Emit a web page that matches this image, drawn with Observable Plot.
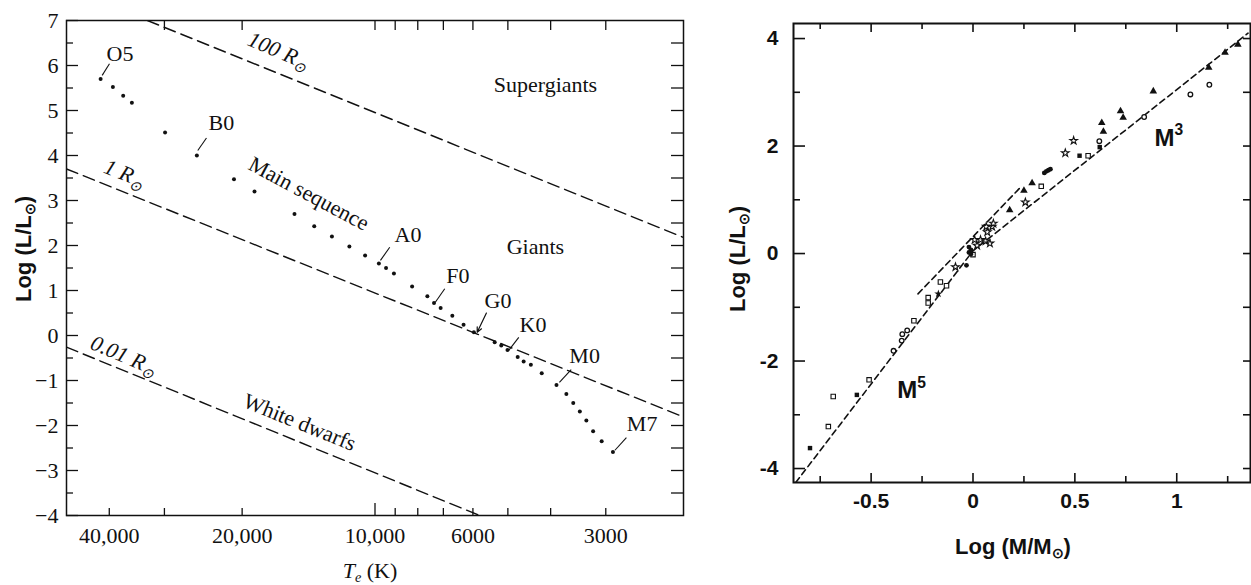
<!DOCTYPE html>
<html><head><meta charset="utf-8">
<script src="https://cdn.jsdelivr.net/npm/d3@7"></script>
<script src="https://cdn.jsdelivr.net/npm/@observablehq/plot@0.6"></script>
<style>
body{margin:0;background:#fff;}
#wrap{position:relative;width:1251px;height:585px;overflow:hidden;background:#fff;}
#left{position:absolute;left:0;top:0;width:700px;height:585px;}
#right{position:absolute;left:700px;top:0;width:551px;height:585px;}
</style></head><body>
<div id="wrap"><div id="left"></div><div id="right"></div></div>
<script>
// ---------------- Left panel data (H-R diagram) ----------------
const msTemp = [41850,39250,37200,35550,29900,25330,20870,18750,15220,13730,12520,11430,10530,9800,9440,9060,8240,7610,7350,7100,6680,6300,5970,5355,5175,5010,4750,4605,4435,4190,3880,3685,3555,3435,3320,3205,3065,2890];
const msLogL = [5.70,5.52,5.33,5.17,4.51,4.00,3.47,3.20,2.70,2.43,2.20,1.98,1.78,1.60,1.50,1.38,1.09,0.87,0.72,0.61,0.44,0.24,0.07,-0.15,-0.22,-0.32,-0.48,-0.58,-0.65,-0.84,-1.10,-1.30,-1.50,-1.69,-1.89,-2.13,-2.35,-2.59];

const specLabels = ["O5","B0","A0","F0","G0","K0","M0","M7"];
const specLabelT = [37830,22280,8420,6490,5265,4387,3350,2482];
const specLabelL = [6.26,4.72,2.23,1.33,0.76,0.24,-0.46,-1.96];
const leaderT1 = [41510,25210,9720,7300,5868,4977,3821,2860];
const leaderL1 = [5.78,4.11,1.67,0.74,0.07,-0.33,-1.04,-2.55];
const leaderT2 = [39960,24090,9260,6950,5592,4724,3593,2694];
const leaderL2 = [6.04,4.39,1.96,1.04,0.50,-0.04,-0.76,-2.27];

// constant-radius lines: endpoints [T, logL]
const radius100 = [[32780,7.0],[2000,2.18]];
const radius1 = [[50000,3.70],[2000,-1.81]];
const radius001 = [[50000,-0.26],[5790,-4.0]];

const regionNames = ["Supergiants","Giants"];
const regionT = [4110,4330];
const regionL = [5.56,1.96];

const slantNames = ["Main sequence","White dwarfs","100 R_{⊙}","1 R_{⊙}","0.01 R_{⊙}"];
const slantT = [14125,14820,16550,36950,37090];
const slantL = [3.15,-1.93,6.33,3.60,-0.44];
const slantAngle = [28,22,23,22,23];
const slantItalic = [false,false,true,true,true];

const lumMajor = [-4,-3,-2,-1,0,1,2,3,4,5,6,7];
const lumMinor = [-3.5,-2.5,-1.5,-0.5,0.5,1.5,2.5,3.5,4.5,5.5,6.5];
const lumRightTicks = [-3.5,-3,-2.5,-2,-1.5,-1,-0.5,0,0.5,1,1.5,2,2.5,3,3.5,4,4.5,5,5.5,6,6.5];
const tempLabels = [40000,20000,10000,6000,3000];
const tempTicksBottom = [40000,30000,20000,9000,8000,7000,6000,5000,4000,3000];
const tempTicksBottomLong = [10000];
const tempTicksTop = [30000,20000,10000,9000,8000,7000,6000,5000,4000,3000];

// ---------------- Right panel data (mass-luminosity) ----------------
const triFilledM = [1.30,1.237,1.157,0.885,0.724,0.737,0.632,0.64,0.29,0.25,0.18];
const triFilledL = [3.89,3.74,3.46,3.02,2.65,2.53,2.43,2.27,1.31,1.17,0.81];
const circOpenM = [1.16,1.067,0.84,0.62,-0.323,-0.347,-0.35,-0.39];
const circOpenL = [3.14,2.96,2.54,2.09,-1.43,-1.50,-1.62,-1.81];
const starOpenM = [0.494,0.453,0.257,0.065,0.094,0.07,0.10,0.008,0.037,0.062,0.083,0.02,-0.086];
const starOpenL = [2.10,1.87,0.955,0.50,0.50,0.40,0.56,0.255,0.255,0.23,0.19,0.15,-0.25];
const starFilledM = [-0.17];
const starFilledL = [-0.75];
const sqFilledM = [0.622,0.523,-0.57,-0.80];
const sqFilledL = [1.98,1.82,-2.63,-3.62];
const sqOpenM = [0.565,0.335,0.0,-0.16,-0.13,-0.22,-0.22,-0.29,-0.51,-0.686,-0.71];
const sqOpenL = [1.82,1.25,-0.02,-0.53,-0.60,-0.82,-0.92,-1.25,-2.35,-2.66,-3.22];
const circFilledM = [0.35,0.36,0.37,0.38,-0.02,-0.02,-0.01,-0.01,-0.032];
const circFilledL = [1.50,1.53,1.55,1.57,0.12,0.02,-0.01,0.07,-0.22];

const fitLowerM = [-0.87,0.0,1.35];
const fitLowerL = [-4.26,0.05,4.1];
const fitUpperM = [-0.27,0.23];
const fitUpperL = [-0.75,1.22];

const powerLabels = ["M^{3}","M^{5}"];
const powerM = [0.891,-0.372];
const powerL = [2.01,-2.68];

const massLabelTicks = [-0.5,0,0.5,1];
const massMajor = [-0.5,0,0.5,1];
const massMinor = [-0.75,-0.25,0.25,0.75,1.25];
const lum2Major = [-4,-2,0,2,4];
const lum2Minor = [-3,-1,1,3];
const lum2All = [-4,-3,-2,-1,0,1,2,3,4];

// ---------------- helpers ----------------
const serif = "'Liberation Serif','Times New Roman',Times,serif";
const sans = "'Liberation Sans',Arial,Helvetica,sans-serif";
const ink = "#111";
const pairs = (a,b) => a.map((v,i)=>({x:v,y:b[i]}));
const minusFmt = d => d < 0 ? "\u2212" + Math.abs(d) : String(d);
const tempFmt = d => d >= 10000 ? d3.format(",")(d) : String(d);

function rich(svg) {
  const NS = "http://www.w3.org/2000/svg";
  svg.querySelectorAll("text").forEach(t => {
    const s = t.textContent;
    if (!/_\{|\^\{|\*/.test(s)) return;
    const parts = s.split(/(_\{[^}]*\}|\^\{[^}]*\}|\*[^*]*\*)/).filter(p => p !== "");
    while (t.firstChild) t.removeChild(t.firstChild);
    let shift = 0;
    for (const p of parts) {
      const ts = document.createElementNS(NS, "tspan");
      let txt = p, small = false, sub = false;
      if (p.startsWith("_{")) { txt = p.slice(2,-1); small = true; sub = true; }
      else if (p.startsWith("^{")) { txt = p.slice(2,-1); small = true; }
      if (txt.length > 1 && txt.startsWith("*") && txt.endsWith("*")) { txt = txt.slice(1,-1); ts.setAttribute("font-style","italic"); }
      if (small) {
        ts.setAttribute("font-size","65%");
        const target = sub ? 0.22 : -0.42;
        ts.setAttribute("dy", ((target - shift)/0.65).toFixed(3) + "em");
        shift = target;
      } else if (shift !== 0) {
        ts.setAttribute("dy", (-shift).toFixed(3) + "em");
        shift = 0;
      }
      ts.textContent = txt;
      t.appendChild(ts);
    }
  });
}

// ---------------- Left plot ----------------
const W1=700,H1=585,mL1=66,mR1=17,mT1=20,mB1=70;
const iW1=W1-mL1-mR1, iH1=H1-mT1-mB1;
const specRows = specLabels.map((s,i)=>({s, T:specLabelT[i], L:specLabelL[i], T1:leaderT1[i], L1:leaderL1[i], T2:leaderT2[i], L2:leaderL2[i]}));
const slantRows = slantNames.map((s,i)=>({s, T:slantT[i], L:slantL[i], a:slantAngle[i], it:slantItalic[i]}));
const dash = {stroke: ink, strokeWidth: 1.4, strokeDasharray: "12,6", clip: true};

const left = Plot.plot({
  width: W1, height: H1, marginLeft: mL1, marginRight: mR1, marginTop: mT1, marginBottom: mB1,
  style: {fontFamily: serif, fontSize: "22px", background: "transparent", color: ink},
  x: {type: "log", domain: [50000, 2000], axis: null},
  y: {domain: [-4, 7], axis: null},
  marks: [
    Plot.line(radius100, {x: d=>d[0], y: d=>d[1], ...dash}),
    Plot.line(radius1, {x: d=>d[0], y: d=>d[1], ...dash}),
    Plot.line(radius001, {x: d=>d[0], y: d=>d[1], ...dash}),
    Plot.tickY(lumMajor, {y: d=>d, insetRight: iW1-12, stroke: ink, strokeWidth: 1.3}),
    Plot.tickY(lumMinor, {y: d=>d, insetRight: iW1-7, stroke: ink, strokeWidth: 1.3}),
    Plot.tickY(lumRightTicks, {y: d=>d, insetLeft: iW1-12, stroke: ink, strokeWidth: 1.3}),
    Plot.tickX(tempTicksBottom, {x: d=>d, insetTop: iH1-7, stroke: ink, strokeWidth: 1.3}),
    Plot.tickX(tempTicksBottomLong, {x: d=>d, insetTop: iH1-12, stroke: ink, strokeWidth: 1.3}),
    Plot.tickX(tempTicksTop, {x: d=>d, insetBottom: iH1-10, stroke: ink, strokeWidth: 1.3}),
    Plot.frame({stroke: ink, strokeWidth: 1.5}),
    Plot.text(lumMajor, {y: d=>d, text: minusFmt, frameAnchor: "left", textAnchor: "end", dx: -8, fontSize: 22, fill: ink}),
    Plot.text(tempLabels, {x: d=>d, text: tempFmt, frameAnchor: "bottom", lineAnchor: "top", dy: 12, fontSize: 22, fill: ink}),
    Plot.dot(pairs(msTemp, msLogL), {x: "x", y: "y", r: 2, fill: ink}),
    Plot.link(specRows.filter(d=>d.s!=="G0"), {x1: "T1", y1: "L1", x2: "T2", y2: "L2", stroke: ink, strokeWidth: 1.1}),
    Plot.arrow(specRows.filter(d=>d.s==="G0"), {x1: "T2", y1: "L2", x2: "T1", y2: "L1", stroke: ink, strokeWidth: 1.2, headLength: 7, headAngle: 50}),
    Plot.text(specRows, {x: "T", y: "L", text: "s", fontSize: 22, fill: ink}),
    Plot.text(regionNames.map((s,i)=>({s, T:regionT[i], L:regionL[i]})), {x: "T", y: "L", text: "s", fontSize: 22, fill: ink}),
    Plot.text(slantRows.filter(d=>!d.it), {x: "T", y: "L", text: "s", rotate: "a", fontSize: 22, fill: ink}),
    Plot.text(slantRows.filter(d=>d.it), {x: "T", y: "L", text: "s", rotate: "a", fontSize: 22, fontStyle: "italic", fill: ink}),
    Plot.text(["*T*_{*e*} (K)"], {text: d=>d, frameAnchor: "bottom", textAnchor: "middle", lineAnchor: "middle", dx: -5, dy: 55, fontSize: 22, fill: ink}),
    Plot.text(["Log (L/L_{⊙})"], {text: d=>d, frameAnchor: "left", textAnchor: "middle", lineAnchor: "middle", rotate: -90, dx: -43, dy: -19, fontSize: 22, fontFamily: sans, fontWeight: "bold", fill: ink})
  ]
});
rich(left);
document.getElementById("left").appendChild(left);

// ---------------- Right plot ----------------
const W2=551,H2=585,mL2=93,mR2=1,mT2=23,mB2=103;
const iW2=W2-mL2-mR2, iH2=H2-mT2-mB2;
const dash2 = {stroke: ink, strokeWidth: 1.6, strokeDasharray: "6,4", clip: true};
const right = Plot.plot({
  width: W2, height: H2, marginLeft: mL2, marginRight: mR2, marginTop: mT2, marginBottom: mB2,
  style: {fontFamily: sans, fontSize: "21px", fontWeight: "bold", background: "transparent", color: ink},
  x: {domain: [-0.881, 1.362]},
  y: {domain: [-4.26, 4.28]},
  marks: [
    Plot.tickY(lum2Major, {y: d=>d, insetRight: iW2-12, stroke: ink, strokeWidth: 1.6}),
    Plot.tickY(lum2Minor, {y: d=>d, insetRight: iW2-7, stroke: ink, strokeWidth: 1.6}),
    Plot.tickY(lum2All, {y: d=>d, insetLeft: iW2-7, stroke: ink, strokeWidth: 1.6}),
    Plot.tickX(massMajor, {x: d=>d, insetTop: iH2-9, stroke: ink, strokeWidth: 1.6}),
    Plot.tickX(massMinor, {x: d=>d, insetTop: iH2-6, stroke: ink, strokeWidth: 1.6}),
    Plot.tickX(massMajor, {x: d=>d, insetBottom: iH2-9, stroke: ink, strokeWidth: 1.6}),
    Plot.tickX(massMinor, {x: d=>d, insetBottom: iH2-6, stroke: ink, strokeWidth: 1.6}),
    Plot.frame({stroke: ink, strokeWidth: 2}),
    Plot.axisY(lum2Major, {tickSize: 0, tickPadding: 15, tickFormat: d => String(d), label: null, fontSize: 21, fontWeight: "bold"}),
    Plot.axisX(massLabelTicks, {tickSize: 0, tickPadding: 11, tickFormat: d => String(d), label: null, fontSize: 21, fontWeight: "bold"}),
    Plot.line(pairs(fitLowerM, fitLowerL), {x: "x", y: "y", ...dash2}),
    Plot.line(pairs(fitUpperM, fitUpperL), {x: "x", y: "y", ...dash2}),
    Plot.dot(pairs(triFilledM, triFilledL), {x: "x", y: "y", symbol: "triangle", r: 2.8, fill: ink}),
    Plot.dot(pairs(circOpenM, circOpenL), {x: "x", y: "y", symbol: "circle", r: 2.3, fill: "white", stroke: ink, strokeWidth: 1.3}),
    Plot.dot(pairs(starOpenM, starOpenL), {x: "x", y: "y", symbol: "star", r: 2.4, fill: "white", stroke: ink, strokeWidth: 1.1}),
    Plot.dot(pairs(starFilledM, starFilledL), {x: "x", y: "y", symbol: "star", r: 2.6, fill: ink}),
    Plot.dot(pairs(sqFilledM, sqFilledL), {x: "x", y: "y", symbol: "square", r: 2.5, fill: ink}),
    Plot.dot(pairs(sqOpenM, sqOpenL), {x: "x", y: "y", symbol: "square", r: 2.5, fill: "white", stroke: ink, strokeWidth: 1.1}),
    Plot.dot(pairs(circFilledM, circFilledL), {x: "x", y: "y", symbol: "circle", r: 2.4, fill: ink}),
    Plot.text(powerLabels.map((s,i)=>({s, x:powerM[i], y:powerL[i]})), {x: "x", y: "y", text: "s", textAnchor: "start", lineAnchor: "bottom", fontSize: 24, fontWeight: "bold", fill: ink}),
    Plot.text(["Log (M/M_{⊙})"], {text: d=>d, frameAnchor: "bottom", textAnchor: "middle", lineAnchor: "middle", dx: -9, dy: 64, fontSize: 22, fontWeight: "bold", fill: ink}),
    Plot.text(["Log (L/L_{⊙})"], {text: d=>d, frameAnchor: "left", textAnchor: "middle", lineAnchor: "middle", rotate: -90, dx: -56, dy: 6, fontSize: 22, fontWeight: "bold", fill: ink})
  ]
});
rich(right);
document.getElementById("right").appendChild(right);
</script>
</body></html>
